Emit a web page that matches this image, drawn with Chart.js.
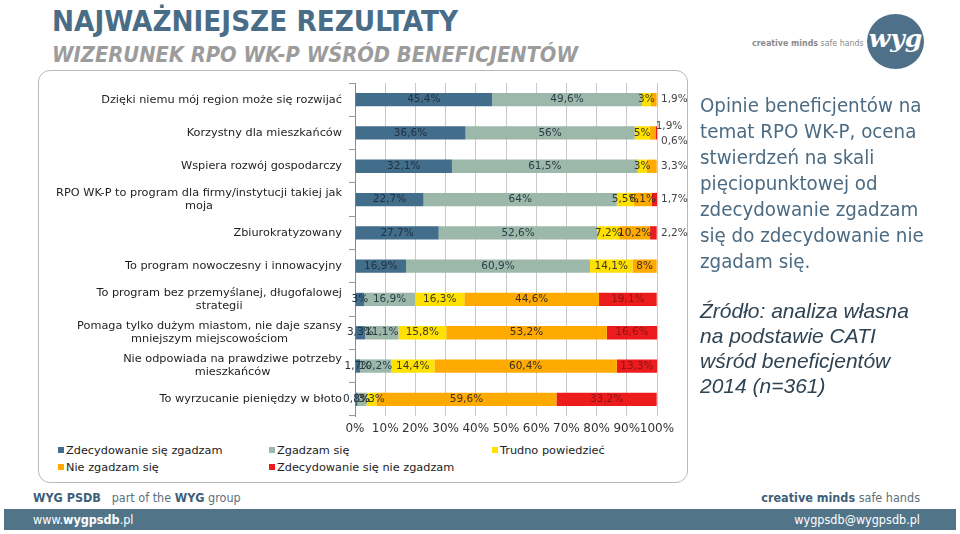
<!DOCTYPE html>
<html lang="pl">
<head>
<meta charset="utf-8">
<script src="https://cdn.jsdelivr.net/npm/chart.js@4.4.0/dist/chart.umd.min.js"></script>
<style>
  body { margin: 0; width: 960px; height: 534px; background: #fff; position: relative; overflow: hidden; font-family: "DejaVu Sans", sans-serif; }
  .abs { position: absolute; white-space: nowrap; }
  .fit { display: inline-block; transform-origin: 0 50%; }
  #title { left: 52px; top: 4px; font: bold 29px "DejaVu Sans Condensed", "DejaVu Sans"; font-stretch: condensed; color: #4a6d87; }
  #subtitle { left: 52px; top: 42px; font: italic bold 22px "DejaVu Sans Condensed", "DejaVu Sans"; font-stretch: condensed; color: #9c9c9c; }
  #box { left: 38px; top: 70px; width: 648px; height: 411px; border: 1.5px solid #b8b8b8; border-radius: 12px; }
  #chartWrap { left: 40px; top: 75px; width: 670px; height: 365px; }
  .legend { font: 11.3px "DejaVu Sans", sans-serif; color: #222; }
  .legend i { display: inline-block; width: 6px; height: 6px; margin-right: 2px; vertical-align: 1px; }
  #desc { left: 700px; top: 92px; font: 20.3px "DejaVu Sans Condensed", "DejaVu Sans"; font-stretch: condensed; line-height: 26px; color: #4c6b82; white-space: pre; }
  #source { left: 700px; top: 298px; font: italic 21px "Liberation Sans", sans-serif; line-height: 25px; color: #2f4352; white-space: pre; }
  #logo { left: 867px; top: 14px; width: 57px; height: 55px; border-radius: 50%; background: #4e7189; color: #fff; text-align: center; font: italic bold 25px "DejaVu Serif", serif; line-height: 50px; }
  #tag { left: 752px; top: 38px; font: 8.8px "DejaVu Sans Condensed", "DejaVu Sans"; color: #8a8a8a; }
  #footL { left: 33px; top: 490px; font: 12.5px "DejaVu Sans Condensed", "DejaVu Sans"; font-stretch: condensed; color: #5b6f80; }
  #footR { right: 40px; top: 490px; font: 12.5px "DejaVu Sans Condensed", "DejaVu Sans"; font-stretch: condensed; color: #5b6f80; }
  #footL b, #footR b { color: #3d5f78; }
  #bar { left: 4px; top: 509px; width: 952px; height: 21px; background: #527489; }
  #www { left: 33px; top: 512px; font: 12.5px "DejaVu Sans Condensed", "DejaVu Sans"; color: #fff; }
  #mail { right: 40px; top: 512px; font: 12.5px "DejaVu Sans Condensed", "DejaVu Sans"; color: #fff; }
</style>
</head>
<body>
<div class="abs" id="title"><span class="fit" data-w="406">NAJWAŻNIEJSZE REZULTATY</span></div>
<div class="abs" id="subtitle"><span class="fit" data-w="526">WIZERUNEK RPO WK-P WŚRÓD BENEFICJENTÓW</span></div>
<div class="abs" id="tag"><b>creative minds</b> safe hands</div>
<div class="abs" id="logo">wyg</div>

<div class="abs" id="box"></div>
<div class="abs" id="chartWrap"><canvas id="chart" width="670" height="365"></canvas></div>

<div class="abs" id="desc">Opinie beneficjentów na
temat RPO WK-P, ocena
stwierdzeń na skali
pięciopunktowej od
zdecydowanie zgadzam
się do zdecydowanie nie
zgadam się.</div>
<div class="abs" id="source">Źródło: analiza własna
na podstawie CATI
wśród beneficjentów
2014 (n=361)</div>

<div class="abs" id="footL"><b>WYG PSDB</b>&nbsp;&nbsp; part of the <b>WYG</b> group</div>
<div class="abs" id="footR"><b>creative minds</b> safe hands</div>
<div class="abs" id="bar"></div>
<div class="abs" id="www">www.<b>wygpsdb</b>.pl</div>
<div class="abs" id="mail">wygpsdb@wygpsdb.pl</div>

<script>
const categories = [
    ['Dzięki niemu mój region może się rozwijać'],
    ['Korzystny dla mieszkańców'],
    ['Wspiera rozwój gospodarczy'],
    ['RPO WK-P to program dla firmy/instytucji takiej jak', 'moja'],
    ['Zbiurokratyzowany'],
    ['To program nowoczesny i innowacyjny'],
    ['To program bez przemyślanej, długofalowej', 'strategii'],
    ['Pomaga tylko dużym miastom, nie daje szansy', 'mniejszym miejscowościom'],
    ['Nie odpowiada na prawdziwe potrzeby', 'mieszkańców'],
    ['To wyrzucanie pieniędzy w błoto']
];
const seriesNames = ['Zdecydowanie się zgadzam', 'Zgadzam się', 'Trudno powiedzieć', 'Nie zgadzam się', 'Zdecydowanie się nie zgadzam'];
const strongAgree    = [45.4, 36.6, 32.1, 22.7, 27.7, 16.9, 3, 3.3, 1.7, 0.8];
const agree          = [49.6, 56, 61.5, 64, 52.6, 60.9, 16.9, 11.1, 10.2, 3];
const hardToSay      = [3, 5, 3, 5.5, 7.2, 14.1, 16.3, 15.8, 14.4, 3.3];
const disagree       = [1.9, 1.9, 3.3, 6.1, 10.2, 8, 44.6, 53.2, 60.4, 59.6];
const strongDisagree = [0, 0.6, 0, 1.7, 2.2, 0, 19.1, 16.6, 13.3, 33.2];
const xTicks = [0, 10, 20, 30, 40, 50, 60, 70, 80, 90, 100];

const colors = ['#426d8b', '#9bb8aa', '#ffe100', '#ffaa00', '#ec1c1c'];
const labelColors = ['#223240', '#2d3d48', '#3a3a20', '#3a3020', '#8a1515'];
const seriesData = [strongAgree, agree, hardToSay, disagree, strongDisagree];

const fmt = v => String(v).replace('.', ',') + '%';

// html legend, 3 columns like the original
const legendPos = [[58, 444], [269, 444], [492, 444], [58, 461], [269, 461]];
seriesNames.forEach((name, i) => {
    const d = document.createElement('div');
    d.className = 'abs legend';
    d.style.left = legendPos[i][0] + 'px';
    d.style.top = legendPos[i][1] + 'px';
    d.innerHTML = `<i style="background:${colors[i]}"></i>${name}`;
    document.body.appendChild(d);
});

document.querySelectorAll('.fit').forEach(el => {
    const w = el.getBoundingClientRect().width;
    el.style.transform = `scaleX(${el.dataset.w / w})`;
});

const segLabels = {
    id: 'segLabels',
    afterDatasetsDraw(chart) {
        const ctx = chart.ctx;
        ctx.save();
        ctx.font = '10.5px "DejaVu Sans", sans-serif';
        ctx.textBaseline = 'middle';
        categories.forEach((c, j) => {
            let last = -1;
            seriesData.forEach((s, i) => { if (s[j] > 0) last = i; });
            const lastOut = seriesData[last][j] < 4;
            let prev = -1;
            for (let p = last - 1; p >= 0; p--) {
                if (seriesData[p][j] > 0) { prev = p; break; }
            }
            const prevOut = lastOut && prev >= 0 && seriesData[prev][j] < 2;
            const right = chart.chartArea.right;
            seriesData.forEach((s, i) => {
                const v = s[j];
                if (!v) return;
                const bar = chart.getDatasetMeta(i).data[j];
                if (lastOut && i === last) {
                    ctx.fillStyle = '#444';
                    ctx.textAlign = 'left';
                    ctx.fillText(fmt(v), right + 4, bar.y + (prevOut ? 8 : 0));
                } else if (prevOut && i === prev) {
                    ctx.fillStyle = '#444';
                    ctx.textAlign = 'center';
                    ctx.fillText(fmt(v), right + 12, bar.y - 7);
                } else {
                    ctx.fillStyle = labelColors[i];
                    ctx.textAlign = 'center';
                    ctx.fillText(fmt(v), (bar.x + bar.base) / 2, bar.y);
                }
            });
        });
        // category labels, lines centred on each other, block right aligned
        const y = chart.scales.y;
        ctx.font = '11.3px "DejaVu Sans", sans-serif';
        ctx.fillStyle = '#1e1e1e';
        ctx.textAlign = 'center';
        categories.forEach((lines, j) => {
            const w = Math.max(...lines.map(l => ctx.measureText(l).width));
            const cx = y.right - 13 - w / 2;
            const cy = y.getPixelForValue(j) - (lines.length - 1) * 6.5;
            lines.forEach((l, k) => ctx.fillText(l, cx, cy + k * 13));
        });
        ctx.restore();
    }
};

new Chart(document.getElementById('chart'), {
    type: 'bar',
    data: {
        labels: categories.map(c => c.join(' ')),
        datasets: seriesData.map((d, i) => ({
            label: seriesNames[i], data: d, backgroundColor: colors[i],
            barPercentage: 0.4, categoryPercentage: 1
        }))
    },
    options: {
        indexAxis: 'y',
        responsive: false,
        animation: false,
        devicePixelRatio: 1,
        layout: { padding: { top: 8, right: 53, left: 0, bottom: 0 } },
        plugins: { legend: { display: false }, tooltip: { enabled: false } },
        scales: {
            x: {
                stacked: true, min: 0, max: 100,
                afterBuildTicks: s => { s.ticks = xTicks.map(v => ({ value: v })); },
                afterFit: s => { s.height = 24; },
                ticks: { autoSkip: false, callback: v => v + '%', color: '#333', font: { size: 12, family: 'DejaVu Sans' }, padding: 6, maxRotation: 0 },
                grid: { color: '#c9c9c9', drawTicks: false },
                border: { display: false }
            },
            y: {
                stacked: true,
                afterFit: s => { s.width = 315; },
                ticks: { display: false },
                grid: { drawOnChartArea: false, offset: true, tickLength: 6, color: '#9a9a9a' },
                border: { color: '#8a8a8a' }
            }
        }
    },
    plugins: [segLabels]
});
</script>
</body>
</html>
